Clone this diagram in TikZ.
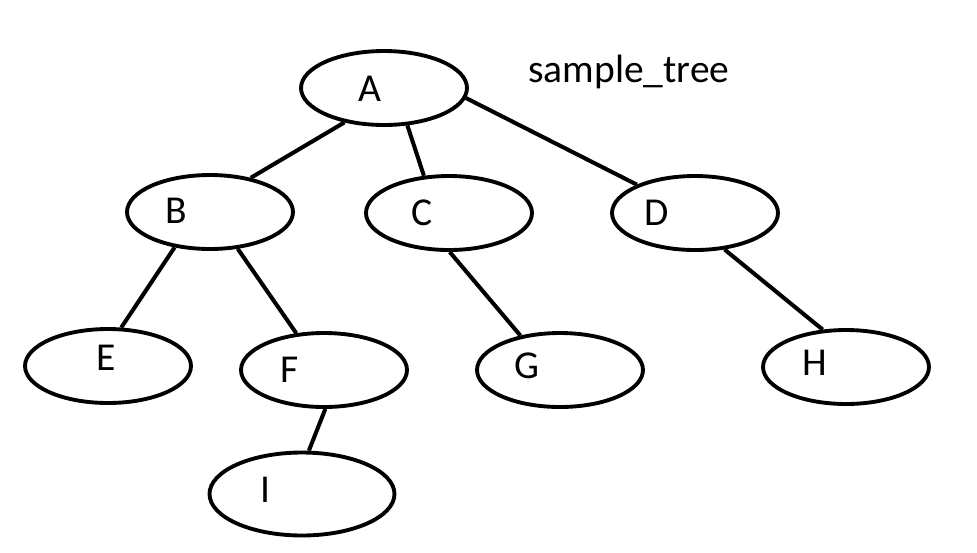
\documentclass[tikz,border=0pt]{standalone}
\usepackage{fontspec}
\setmainfont{Carlito}
\usetikzlibrary{shapes.geometric}
\begin{document}
\begin{tikzpicture}[x=0.02cm, y=-0.02cm,
  oval/.style={ellipse, draw, line width=2.2pt, minimum width=3.32cm, minimum height=1.48cm, inner sep=0pt},
  lbl/.style={font=\fontsize{22.5}{26}\selectfont, inner sep=0pt},
  edge/.style={line width=2.3pt}]
\useasboundingbox (0,0) rectangle (977,552);
\node[oval] (tidA) at (384,88){};
\node[lbl] (labA) at (370,89){A};
\node[oval] (tidB) at (210,212){};
\node[lbl] (labB) at (176,211){B};
\node[oval] (tidC) at (449,213){};
\node[lbl] (labC) at (422,213){C};
\node[oval] (tidD) at (695,213){};
\node[lbl] (labD) at (657,213){D};
\draw[edge](tidA.221) -- (tidB.40);
\draw[edge](tidA.302) -- (tidC.124);
\draw[edge](tidA.353) -- (tidD.154);
\node[oval] (tidE) at (108,366){};
\node[lbl] (labE) at (106,358){E};
\node[oval] (tidF) at (324,370){};
\node[lbl] (labF) at (290,370){F};
\draw[edge](tidB.225) -- (tidE.71);
\draw[edge](tidB.307) -- (tidF.127);
\node[oval, minimum width=3.7cm, minimum height=1.66cm] (tidI) at (302,494){};
\node[lbl] (labI) at (265,490){I};
\draw[edge](tidF.272) -- (tidI.81);
\node[oval] (tidG) at (560,370){};
\node[lbl] (labG) at (527,366){G};
\draw[edge](tidC.271) -- (tidG.139);
\node[oval] (tidH) at (846,367){};
\node[lbl] (labH) at (815,363){H};
\draw[edge](tidD.309) -- (tidH.122);
\node[lbl] (title) at (629,72){sample\_tree};
\end{tikzpicture}
\end{document}
